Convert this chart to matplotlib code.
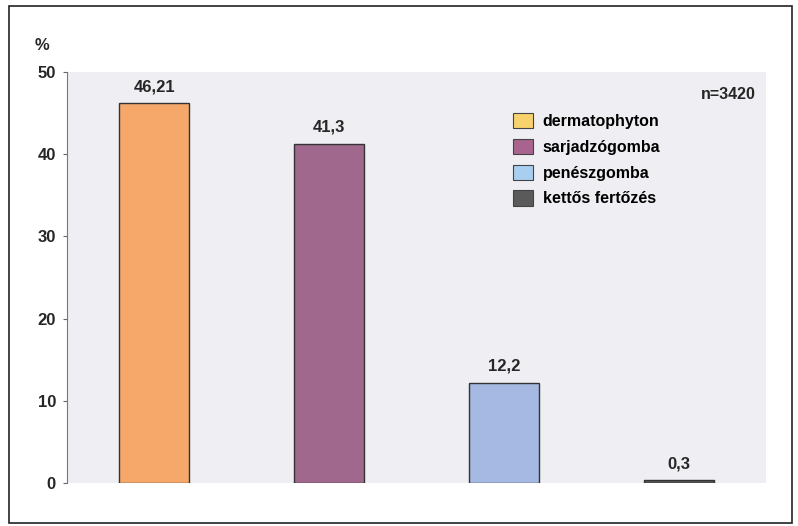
import matplotlib
matplotlib.use("Agg")
import matplotlib.pyplot as plt
from matplotlib.patches import Patch, Rectangle

plt.rcParams["font.family"] = ["Liberation Sans", "DejaVu Sans"]
plt.rcParams["font.weight"] = "bold"

categories = ["dermatophyton", "sarjadzógomba", "penészgomba", "kettős fertőzés"]
values = [46.21, 41.3, 12.2, 0.3]
value_labels = ["46,21", "41,3", "12,2", "0,3"]
bar_colors = ["#f6a86a", "#a0688c", "#a5b9e2", "#555555"]
legend_colors = ["#f8d26c", "#a8648e", "#a9cff0", "#5a5a5a"]
yticks = [0, 10, 20, 30, 40, 50]

TXT = "#262626"

fig = plt.figure(figsize=(7.98, 5.26), dpi=100)
fig.patch.set_facecolor("white")
# thin frame round the whole figure
fig.add_artist(Rectangle((0.011, 0.006), 0.981, 0.983, transform=fig.transFigure,
                         fill=False, edgecolor="#222222", linewidth=1.2))

ax = fig.add_axes([0.084, 0.082, 0.876, 0.781])
ax.set_facecolor("#efeff3")

x = list(range(len(values)))
ax.bar(x, values, width=0.4, color=bar_colors, edgecolor="#333333", linewidth=1.0)
for xi, v, lab in zip(x, values, value_labels):
    ax.text(xi, v + 1.1, lab, ha="center", va="bottom", fontsize=12, color=TXT)

ax.set_xlim(-0.5, 3.5)
ax.set_ylim(0, 50)
ax.set_yticks(yticks)
ax.set_xticks([])
ax.tick_params(axis="y", direction="out", length=3, width=0.8, colors="#666666",
               labelcolor=TXT, labelsize=12, pad=5)
for side in ("top", "right", "bottom"):
    ax.spines[side].set_visible(False)
ax.spines["left"].set_color("#777777")
ax.spines["left"].set_linewidth(0.8)

fig.text(0.044, 0.9, "%", fontsize=12, color=TXT, ha="left", va="bottom")
ax.text(0.985, 0.945, "n=3420", transform=ax.transAxes, ha="right", va="center",
        fontsize=11.5, color=TXT)

handles = [Patch(facecolor=c, edgecolor="#444444", linewidth=0.8) for c in legend_colors]
ax.legend(handles, categories, loc="upper left", bbox_to_anchor=(0.638, 0.9),
          frameon=False, fontsize=11.5, borderpad=0, borderaxespad=0,
          handlelength=1.25, handleheight=1.1, handletextpad=0.6, labelspacing=0.6)

fig.savefig("out.png", dpi=100)
